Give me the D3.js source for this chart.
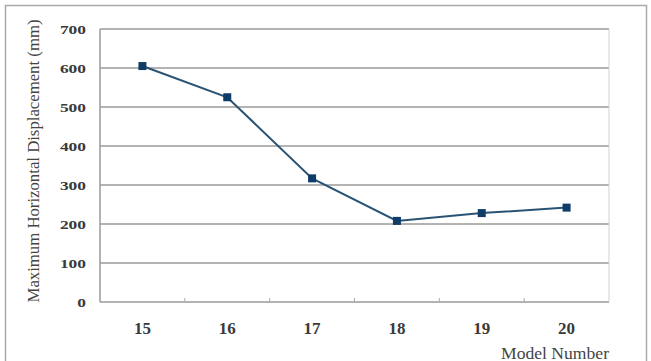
<!DOCTYPE html>
<html>
<head>
<meta charset="utf-8">
<script src="https://cdn.jsdelivr.net/npm/d3@7"></script>
<style>
  body { margin: 0; background: #fff; }
  text { font-family: "Liberation Serif", "DejaVu Serif", serif; }
</style>
</head>
<body>
<div id="chart"></div>
<script>
// data
const models = ["15", "16", "17", "18", "19", "20"];
const displacement = [605, 525, 317, 208, 228, 242];
const yTicks = [0, 100, 200, 300, 400, 500, 600, 700];

const width = 651;
const height = 361;
const margin = { top: 29, right: 42, bottom: 59, left: 100 };

const svg = d3.select("#chart")
    .append("svg")
    .attr("width", width)
    .attr("height", height);

// outer frame
svg.append("rect")
    .attr("x", 5.5)
    .attr("y", 5.5)
    .attr("width", 641)
    .attr("height", 370)
    .attr("fill", "none")
    .attr("stroke", "#aaa")
    .attr("stroke-width", 1.5);

const x = d3.scaleBand()
    .domain(models)
    .range([margin.left, width - margin.right]);

const y = d3.scaleLinear()
    .domain([0, 700])
    .range([height - margin.bottom, margin.top]);

// horizontal grid lines
svg.append("g")
    .selectAll("line")
    .data(yTicks)
    .enter()
    .append("line")
    .attr("x1", margin.left)
    .attr("x2", width - margin.right)
    .attr("y1", d => y(d))
    .attr("y2", d => y(d))
    .attr("stroke", "#9a9a9a")
    .attr("stroke-width", 1.5);

// left and right edges of the plot
svg.append("line")
    .attr("x1", margin.left).attr("x2", margin.left)
    .attr("y1", margin.top).attr("y2", y(0))
    .attr("stroke", "#9a9a9a").attr("stroke-width", 1.5);
svg.append("line")
    .attr("x1", width - margin.right).attr("x2", width - margin.right)
    .attr("y1", margin.top).attr("y2", y(0))
    .attr("stroke", "#d0d0d0").attr("stroke-width", 1);

// y tick labels (the source image is stretched sideways)
svg.append("g")
    .selectAll("text")
    .data(yTicks)
    .enter()
    .append("text")
    .attr("x", 86)
    .attr("y", d => y(d))
    .attr("dy", "0.35em")
    .attr("text-anchor", "end")
    .attr("font-size", 13)
    .attr("font-weight", "bold")
    .attr("fill", "#3a3a3a")
    .attr("textLength", d => String(d).length * 8.7)
    .attr("lengthAdjust", "spacingAndGlyphs")
    .text(d => d);

// small ticks between categories
svg.append("g")
    .selectAll("line")
    .data(models.slice(1))
    .enter()
    .append("line")
    .attr("x1", d => x(d))
    .attr("x2", d => x(d))
    .attr("y1", y(0))
    .attr("y2", y(0) - 4)
    .attr("stroke", "#aaa")
    .attr("stroke-width", 1);

// x tick labels
svg.append("g")
    .selectAll("text")
    .data(models)
    .enter()
    .append("text")
    .attr("x", d => x(d) + x.bandwidth() / 2)
    .attr("y", 334)
    .attr("text-anchor", "middle")
    .attr("font-size", 17)
    .attr("font-weight", "bold")
    .attr("fill", "#3a3a3a")
    .text(d => d);

// axis titles
svg.append("text")
    .attr("transform", "translate(39,161) rotate(-90)")
    .attr("text-anchor", "middle")
    .attr("font-size", 16)
    .attr("fill", "#444")
    .attr("textLength", 283)
    .attr("lengthAdjust", "spacingAndGlyphs")
    .text("Maximum Horizontal Displacement (mm)");

svg.append("text")
    .attr("x", 609)
    .attr("y", 359)
    .attr("text-anchor", "end")
    .attr("font-size", 16)
    .attr("fill", "#444")
    .attr("textLength", 108)
    .attr("lengthAdjust", "spacingAndGlyphs")
    .text("Model Number");

// series line
const line = d3.line()
    .x((d, i) => x(models[i]) + x.bandwidth() / 2)
    .y(d => y(d));

svg.append("path")
    .datum(displacement)
    .attr("d", line)
    .attr("fill", "none")
    .attr("stroke", "#2a5373")
    .attr("stroke-width", 2);

// square markers
svg.append("g")
    .selectAll("rect")
    .data(displacement)
    .enter()
    .append("rect")
    .attr("x", (d, i) => x(models[i]) + x.bandwidth() / 2 - 4)
    .attr("y", d => y(d) - 4)
    .attr("width", 8)
    .attr("height", 8)
    .attr("fill", "#0f3c66");
</script>
</body>
</html>
